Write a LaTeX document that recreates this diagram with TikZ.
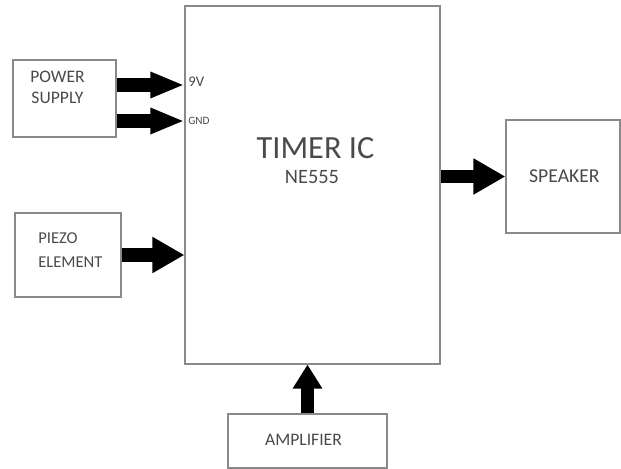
\documentclass[tikz,border=0pt]{standalone}
\usepackage{fontspec}
\setmainfont{Carlito}
\usetikzlibrary{arrows.meta,positioning}
\definecolor{boxgray}{HTML}{8A8A8A}
\definecolor{txtgray}{HTML}{4A4A4A}

\begin{document}
\begin{tikzpicture}[
    box/.style={draw=boxgray,line width=0.8pt,fill=white,inner sep=0pt},
    lbl/.style={text=txtgray,inner sep=0pt,align=center},
    arr/.style={-{Triangle[length=8mm,width=8.5mm]},line width=3.3mm,black}
]
\useasboundingbox (0,0) rectangle (15.525,11.725);

\node[box,minimum width=6.375cm,minimum height=8.95cm] (timer) at (7.8125,7.1) {};
\node[box,minimum width=2.575cm,minimum height=1.925cm] (power) at (1.6125,9.2625) {};
\node[box,minimum width=2.65cm,minimum height=2.1cm] (piezo) at (1.7,5.35) {};
\node[box,minimum width=2.85cm,minimum height=2.825cm] (speaker) at (14.075,7.3125) {};
\node[box,minimum width=3.975cm,minimum height=1.35cm] (amp) at (7.6875,0.7) {};

\node[lbl,font=\fontsize{23}{26}\selectfont] (timertxt) at (7.8875,8.025) {TIMER IC};
\node[lbl,font=\fontsize{14.5}{17}\selectfont] (netxt) at (7.8,7.3) {NE555};
\node[lbl,font=\fontsize{12.5}{15}\selectfont] (powertxt) at (1.4375,9.5375) {POWER\\SUPPLY};
\node[lbl,align=left,font=\fontsize{11.8}{17}\selectfont,anchor=west] (piezotxt) at (0.95,5.475) {PIEZO\\ELEMENT};
\node[lbl,font=\fontsize{14}{17}\selectfont] (speakertxt) at (14.11,7.325) {SPEAKER};
\node[lbl,font=\fontsize{12.5}{15}\selectfont] (amptxt) at (7.5875,0.725) {AMPLIFIER};
\node[lbl,font=\fontsize{10.5}{12}\selectfont,anchor=west] (vin) at (4.7,9.675) {9V};
\node[lbl,font=\fontsize{8}{10}\selectfont,anchor=west] (gnd) at (4.7,8.7) {GND};

\draw[arr,-{Triangle[length=8.5mm,width=6mm]}] (power.east |- 0,9.6) -- (timer.west |- 0,9.6);
\draw[arr,-{Triangle[length=8.5mm,width=6mm]}] (power.east |- gnd) -- (timer.west |- gnd);
\draw[arr] (piezo.east) -- (timer.west |- piezo.east);
\draw[arr] (timer.east |- speaker.west) -- (speaker.west);
\draw[arr,-{Triangle[length=6mm,width=7mm]}] (amp.north) -- (timer.south -| amp.north);
\end{tikzpicture}
\end{document}
